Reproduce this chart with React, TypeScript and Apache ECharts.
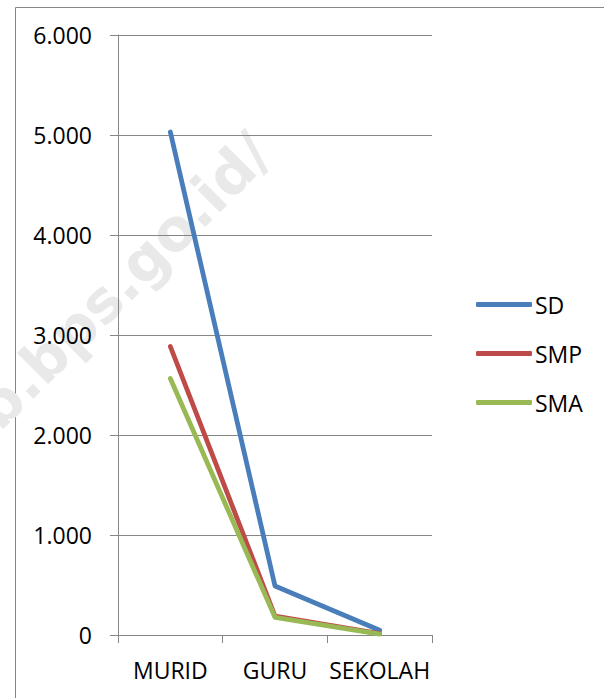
import React, { useEffect, useRef } from "react";
import * as echarts from "echarts";

// Jumlah murid, guru dan sekolah per jenjang pendidikan
const categories = ["MURID", "GURU", "SEKOLAH"];
const sdValues = [5030, 490, 48];
const smpValues = [2885, 190, 14];
const smaValues = [2565, 177, 9];
const yTicks = { min: 0, max: 6000, interval: 1000 };

const FONT = "'Open Sans', 'Liberation Sans', sans-serif";
const GRAY = "#868686";

const formatThousands = (v: number) =>
  String(v).replace(/\B(?=(\d{3})+(?!\d))/g, ".");

export default function App() {
  const ref = useRef<HTMLDivElement>(null);

  useEffect(() => {
    if (!ref.current) return;
    const chart = echarts.init(ref.current, null, { renderer: "svg" });

    const lineSeries = (name: string, data: number[], color: string) => ({
      name,
      type: "line",
      data,
      symbol: "none",
      color,
      lineStyle: { color, width: 4.8, cap: "round", join: "round" },
      z: 3,
    });

    chart.setOption({
      animation: false,
      backgroundColor: "#ffffff",
      textStyle: { fontFamily: FONT },
      grid: { left: 118, right: 172, top: 35, bottom: 63, containLabel: false },
      xAxis: {
        type: "category",
        data: categories,
        boundaryGap: true,
        axisLine: { lineStyle: { color: GRAY, width: 1 } },
        axisTick: { show: true, length: 8, lineStyle: { color: GRAY } },
        axisLabel: {
          color: "#000",
          fontFamily: FONT,
          fontSize: 23,
          lineHeight: 23,
          margin: 23,
          interval: 0,
        },
        splitLine: { show: false },
      },
      yAxis: {
        type: "value",
        min: yTicks.min,
        max: yTicks.max,
        interval: yTicks.interval,
        axisLine: { show: true, lineStyle: { color: GRAY, width: 1 } },
        axisTick: { show: true, length: 8, lineStyle: { color: GRAY } },
        axisLabel: {
          color: "#000",
          fontFamily: FONT,
          fontSize: 23,
          margin: 26,
          formatter: (v: number) => formatThousands(v),
        },
        splitLine: { show: true, lineStyle: { color: GRAY, width: 1 } },
      },
      legend: {
        orient: "vertical",
        left: 471,
        top: 288,
        itemWidth: 56,
        itemHeight: 5,
        itemGap: 26,
        icon: "roundRect",
        textStyle: {
          color: "#000",
          fontFamily: FONT,
          fontSize: 23,
          lineHeight: 23,
          padding: [0, 0, 0, -2],
        },
        data: ["SD", "SMP", "SMA"],
      },
      graphic: [
        {
          type: "rect",
          z: -10,
          shape: { x: 15.5, y: 7.5, width: 700, height: 800 },
          style: { fill: "none", stroke: GRAY, lineWidth: 1 },
          silent: true,
        },
        {
          type: "text",
          z: -5,
          x: -42,
          y: 446,
          rotation: Math.PI / 4,
          silent: true,
          style: {
            text: "ab.bps.go.id/",
            fill: "#e9e9e9",
            font: "bold 58px 'DejaVu Sans', Verdana, sans-serif",
            textAlign: "left",
            textVerticalAlign: "middle",
          },
        },
      ],
      series: [
        lineSeries("SD", sdValues, "#4A7EBB"),
        lineSeries("SMP", smpValues, "#BE4B48"),
        lineSeries("SMA", smaValues, "#98B954"),
      ],
    });

    return () => chart.dispose();
  }, []);

  return (
    <div
      ref={ref}
      style={{ position: "fixed", left: 0, top: 0, width: 604, height: 698 }}
    />
  );
}
